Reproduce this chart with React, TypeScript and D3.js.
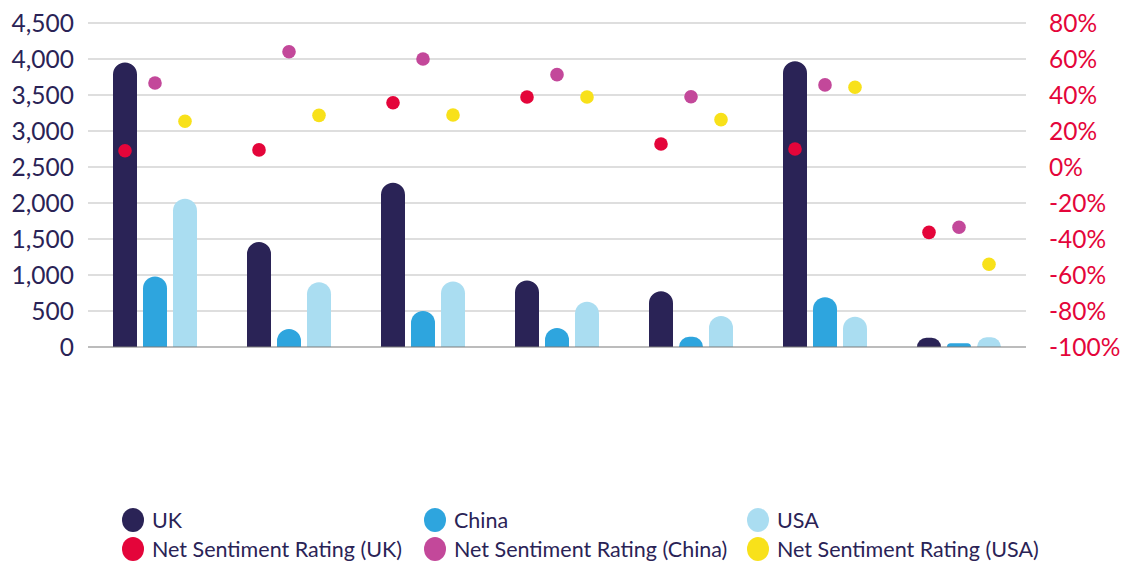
import React from "react";
import * as d3 from "d3";

const categories = ["G1", "G2", "G3", "G4", "G5", "G6", "G7"];
const seriesNames = ["UK", "China", "USA"];
const ukValues = [3950, 1460, 2280, 925, 775, 3970, 130];
const chinaValues = [980, 250, 500, 265, 143, 690, 51];
const usaValues = [2060, 900, 910, 630, 430, 420, 135];
const nsrUK = [9, 9.5, 35.7, 38.9, 12.8, 10, -36.3];
const nsrChina = [46.7, 64, 60, 51.3, 39, 45.6, -33.5];
const nsrUSA = [25.4, 28.7, 28.9, 38.9, 26.3, 44.3, -54];
const leftTicks = [0, 500, 1000, 1500, 2000, 2500, 3000, 3500, 4000, 4500];
const rightTicks = [-100, -80, -60, -40, -20, 0, 20, 40, 60, 80];
const legendRow1 = ["UK", "China", "USA"];
const legendRow2 = ["Net Sentiment Rating (UK)", "Net Sentiment Rating (China)", "Net Sentiment Rating (USA)"];

const barColors = ["#2a2356", "#2ea5de", "#aaddf1"];
const dotColors = ["#e4053a", "#c3489a", "#f8e11a"];
const navy = "#2a2356";
const red = "#e4053a";

const W = 1126, H = 562;
const M = { left: 88, right: 1026, top: 23, bottom: 347 };

export default function App() {
  const bars = [ukValues, chinaValues, usaValues];
  const dots = [nsrUK, nsrChina, nsrUSA];
  const x0 = d3.scaleBand<string>().domain(categories).range([M.left, M.right])
    .paddingInner(0.3284).paddingOuter(0.1642);
  const x1 = d3.scaleBand<string>().domain(seriesNames).range([0, x0.bandwidth()])
    .paddingInner(0.2).paddingOuter(0.1);
  const yL = d3.scaleLinear().domain([0, 4500]).range([M.bottom, M.top]);
  const yR = d3.scaleLinear().domain([-100, 80]).range([M.bottom, M.top]);
  const fmt = d3.format(",");
  const font = "Lato, 'Open Sans', sans-serif";

  const barPath = (x: number, y: number, w: number, y0: number) => {
    const h = y0 - y;
    const r = Math.max(0, Math.min(w / 2, h));
    return `M${x},${y0}V${y + r}A${r},${r} 0 0 1 ${x + r},${y}H${x + w - r}A${r},${r} 0 0 1 ${x + w},${y + r}V${y0}Z`;
  };

  const legendX = [133, 435, 758];
  const legendY = [520, 549];

  return (
    <svg width={W} height={H} style={{ position: "absolute", left: 0, top: 0, background: "#fff" }} fontFamily={font}>
      {leftTicks.filter((t) => t > 0).map((t) => (
        <line key={"g" + t} x1={M.left} x2={M.right} y1={yL(t)} y2={yL(t)} stroke="#dedede" strokeWidth={2} />
      ))}
      {leftTicks.map((t) => (
        <text key={"l" + t} x={74} y={yL(t)} dy="0.36em" textAnchor="end" fontSize={24.5} fill={navy}>{fmt(t)}</text>
      ))}
      {rightTicks.map((t) => (
        <text key={"r" + t} x={1049} y={yR(t)} dy="0.36em" textAnchor="start" fontSize={24.5} fill={red}>{t + "%"}</text>
      ))}
      {categories.map((c, i) => (
        <g key={c} transform={`translate(${x0(c)},0)`}>
          {seriesNames.map((s, k) => (
            <path key={s} d={barPath(x1(s)!, yL(bars[k][i]), x1.bandwidth(), yL(0))} fill={barColors[k]} />
          ))}
        </g>
      ))}
      <line x1={M.left} x2={M.right} y1={yL(0)} y2={yL(0)} stroke="#7a7a7a" strokeWidth={1.2} />
      {categories.map((c, i) => (
        <g key={"d" + c} transform={`translate(${x0(c)},0)`}>
          {seriesNames.map((s, k) => (
            <circle key={s} cx={x1(s)! + x1.bandwidth() / 2} cy={yR(dots[k][i])} r={6.8} fill={dotColors[k]} />
          ))}
        </g>
      ))}
      {[legendRow1, legendRow2].map((row, ri) =>
        row.map((label, ci) => (
          <g key={label} transform={`translate(${legendX[ci]},${legendY[ri]})`}>
            <ellipse cx={0} cy={0} rx={11} ry={12} fill={ri === 0 ? barColors[ci] : dotColors[ci]} />
            <text x={19} y={0} dy="0.36em" fontSize={21.5} fill={navy}>{label}</text>
          </g>
        ))
      )}
    </svg>
  );
}
